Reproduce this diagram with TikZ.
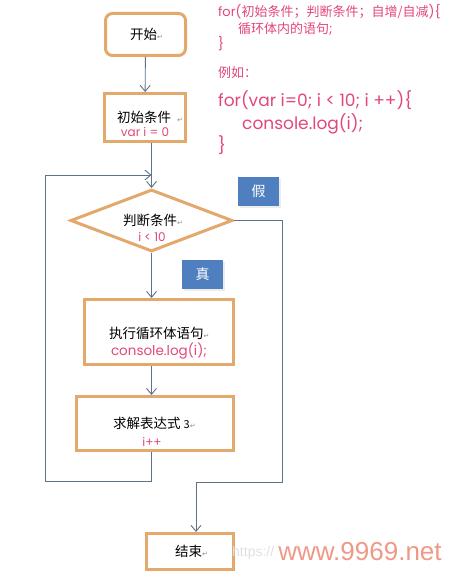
\documentclass[tikz,border=0pt]{standalone}
\usepackage{fontspec}
\setmainfont{Noto Sans CJK SC}
\newfontfamily\codefont{Poppins}
\newfontfamily\symfont{DejaVu Sans}
\newfontfamily\webfont{Liberation Sans}
\usetikzlibrary{shapes.geometric,arrows.meta,shadows}
\definecolor{boxorange}{HTML}{E2A86C}
\definecolor{flowline}{HTML}{5E7288}
\definecolor{codepink}{HTML}{E2467C}
\definecolor{tagblue}{HTML}{4F7FBE}
\definecolor{wmark}{HTML}{F09886}
\newcommand{\ret}{{\color{black!45}\symfont\fontsize{7}{7}\selectfont ↵}}

\begin{document}
\begin{tikzpicture}[x=1pt,y=-1pt,
	box/.style={draw=boxorange, line width=3pt, inner sep=0pt},
	flow/.style={draw=flowline, line width=0.9pt, -{Straight Barb[length=6pt,width=10pt]}},
	txt/.style={font=\fontsize{13.5}{14}\selectfont, inner sep=0pt},
	code/.style={text=codepink, font=\codefont\fontsize{12}{13}\selectfont, inner sep=0pt},
	note/.style={text=codepink, font=\fontsize{13}{14}\selectfont, inner sep=0pt, anchor=west},
	tag/.style={fill=tagblue, text=white, font=\fontsize{14}{14}\selectfont, minimum width=41pt, minimum height=29pt, inner sep=0pt, drop shadow={shadow xshift=2pt, shadow yshift=-2pt, fill=black!15}}]
	\useasboundingbox (0,0) rectangle (457,583);

	\node[box, rounded corners=7pt, minimum width=80pt, minimum height=42pt] (start) at (145.5,34.5) {};
	\node[box, minimum width=81pt, minimum height=48pt] (init) at (145,117.5) {};
	\node[box, diamond, minimum width=162pt, minimum height=62pt] (dia) at (151.5,220.5) {};
	\node[box, minimum width=149pt, minimum height=65pt] (exec) at (159,332) {};
	\node[box, minimum width=157pt, minimum height=54pt] (ask) at (155,423.5) {};
	\node[box, minimum width=87pt, minimum height=36pt] (end) at (190,551.5) {};

	\node[txt, anchor=west] (startT) at (130,34) {开始\ret};
	\node[txt, anchor=west] (initT) at (117,117) {初始条件\hspace{6pt}\ret};
	\node[code] (initC) at (145,132) {var i = 0};
	\node[txt, anchor=west] (diaT) at (123,220) {判断条件\ret};
	\node[code] (diaC) at (152,237) {i < 10};
	\node[txt, anchor=west] (execT) at (109,333) {执行循环体语句\ret};
	\node[code, font=\codefont\fontsize{13.5}{14}\selectfont] (execC) at (159,351) {console.log(i);};
	\node[txt, anchor=west] (askT) at (113,423) {求解表达式 {\fontsize{11}{12}\selectfont 3}\ret};
	\node[code] (askC) at (152,442) {i++};
	\node[txt, anchor=west] (endT) at (175,551) {结束\ret};

	\node[tag] (tagF) at (258.5,191.5) {假};
	\node[tag] (tagT) at (202.5,274) {真};

	\coordinate (loopA) at (45,481);
	\coordinate (loopB) at (45,175);
	\coordinate (outR) at (282,482);
	\coordinate (outL) at (196,482);

	\draw[flow] (start) -- (init);
	\draw[flow] (init.south -| dia.north) -- (dia.north);
	\draw[flow] (dia.south) -- (dia.south |- exec.north);
	\draw[flow] (exec.south -| dia.south) -- (ask.north -| dia.south);
	\draw[flow] (ask.south -| dia.south) |- (loopA) -- (loopB) -- (loopB -| dia.north);
	\draw[flow] (dia.east) -| (outR) -- (outL) -- (outL |- end.north);

	\node[note] (codeA) at (218,12) {{\codefont for(}初始条件；判断条件；自增/自减{\codefont )\{}};
	\node[note] (codeB) at (238,29) {循环体内的语句{\codefont ;}};
	\node[note, font=\codefont\fontsize{13}{14}\selectfont] (codeC) at (218,44) {\}};
	\node[note] (codeD) at (218,73) {例如：};
	\node[note, font=\codefont\fontsize{17}{18}\selectfont] (codeE) at (218,100) {for(var i=0; i < 10; i ++)\{};
	\node[note, font=\codefont\fontsize{17}{18}\selectfont] (codeF) at (242,124) {console.log(i);};
	\node[note, font=\codefont\fontsize{17}{18}\selectfont] (codeG) at (218,145) {\}};

	\node[anchor=west, text=black!12, font=\webfont\fontsize{14}{14}\selectfont, inner sep=0pt] (wmA) at (232,553) {https://};
	\node[text=wmark, font=\webfont\fontsize{26}{26}\selectfont, inner sep=0pt] (wmB) at (360,552) {www.9969.net};
\end{tikzpicture}
\end{document}
